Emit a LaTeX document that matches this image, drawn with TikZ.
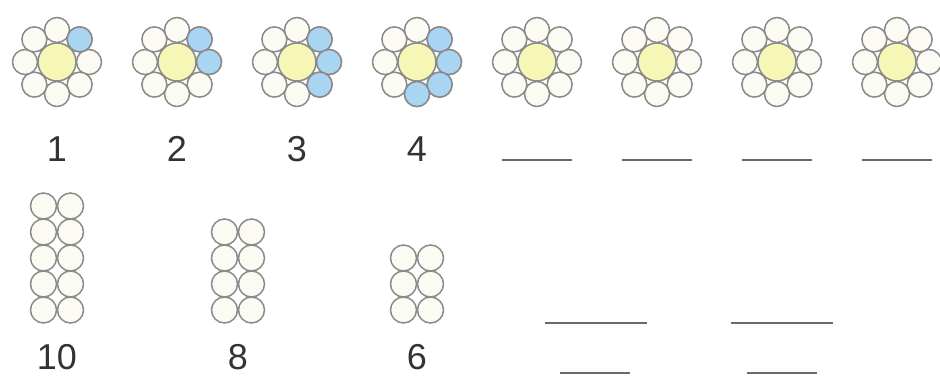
\documentclass[tikz,border=0pt]{standalone}
\usepackage{fontspec}
\setmainfont{Liberation Sans}
\usetikzlibrary{positioning}

\definecolor{petalfill}{HTML}{FBFBF4}
\definecolor{heartfill}{HTML}{F6F6B6}
\definecolor{bluefill}{HTML}{A9D4F2}
\definecolor{rimgray}{HTML}{8A8A8A}
\definecolor{blankgray}{HTML}{6A6A6A}

\begin{document}
\begin{tikzpicture}[
x=1pt,y=-1pt,
petal/.style={draw=rimgray,line width=1.5pt,fill=petalfill},
bluepetal/.style={petal,fill=bluefill},
heart/.style={draw=rimgray,line width=1.5pt,fill=heartfill},
numlabel/.style={font=\fontsize{36}{38}\selectfont,text=black!80,inner sep=0pt},
blank/.style={draw=blankgray,line width=2.5pt}
]
\useasboundingbox (0,0) rectangle (940,378);

% Flowers, first row (y runs downwards, so angles turn clockwise)
\foreach \i in {1,...,8}{
  \coordinate (fl\i) at ({57+120*(\i-1)},62);
  \foreach \k in {0,...,7}
    \draw[petal] (fl\i) ++({45*\k}:32) circle[radius=12.5];
  \draw[heart] (fl\i) circle[radius=19];
}

% Coloured petals
\foreach \i in {1,...,4}
  \foreach \k in {1,...,\i}
    \draw[bluepetal] (fl\i) ++({45*\k-90}:32) circle[radius=12.5];

% Numbers under the coloured flowers
\foreach \i in {1,...,4}
  \node[numlabel] (num\i) at ({57+120*(\i-1)},149) {\i};

% Blanks under the plain flowers
\foreach \i in {5,...,8}
  \draw[blank] ({57+120*(\i-1)-35},160) -- ++(70,0);

% Groups of circles, second row
\foreach \n/\x in {5/57,4/238,3/417}{
  \foreach \r in {1,...,\n}{
    \draw[petal] (\x-13.5,{310-26*(\r-1)}) circle[radius=13];
    \draw[petal] (\x+13.5,{310-26*(\r-1)}) circle[radius=13];
  }
}

% Numbers under the groups
\node[numlabel] (ten) at (57,357) {10};
\node[numlabel] (eight) at (238,357) {8};
\node[numlabel] (six) at (417,357) {6};

% Blanks for the answer
\draw[blank] (545,323) -- (647,323);
\draw[blank] (731,323) -- (833,323);
\draw[blank] (560,373) -- (630,373);
\draw[blank] (747,373) -- (817,373);

\end{tikzpicture}
\end{document}
